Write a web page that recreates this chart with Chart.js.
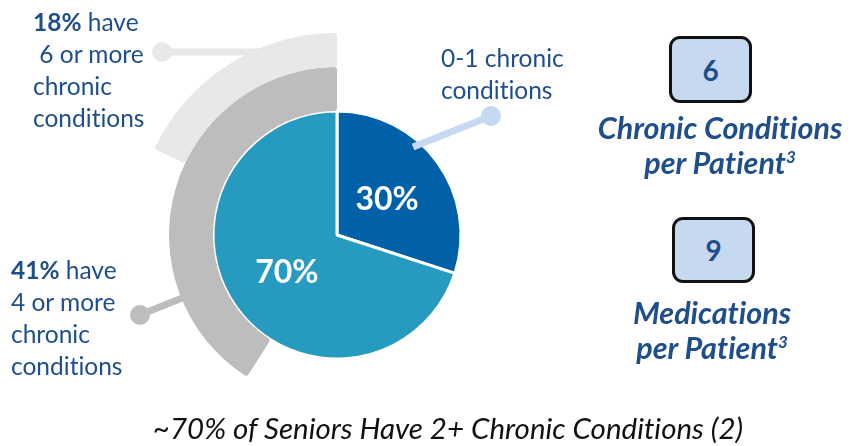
<!DOCTYPE html>
<html>
<head>
<meta charset="utf-8">
<script src="https://cdn.jsdelivr.net/npm/chart.js@4.4.1/dist/chart.umd.min.js"></script>
<style>
  body { margin: 0; background: #fff; }
  #wrap { position: relative; width: 850px; height: 446px; font-family: Lato, "Open Sans", sans-serif; color: #1F4E8C;
          font-variant-ligatures: none; font-feature-settings: "liga" 0, "dlig" 0; }
  #myChart { position: absolute; left: 0; top: 0; }
  .note { position: absolute; font-size: 24.5px; line-height: 32px; white-space: pre; }
  .box { position: absolute; box-sizing: border-box; border: 3px solid #111; border-radius: 11px; background: #C6D9F1;
         font-weight: bold; font-size: 28px; display: flex; align-items: center; justify-content: center; }
  .stat { position: absolute; width: 300px; text-align: center; font-weight: bold; font-style: italic; font-size: 30.5px; line-height: 35px; }
  .stat sup { font-size: 17px; vertical-align: 11px; line-height: 0; }
  #caption { position: absolute; left: 0; width: 896px; top: 410px; text-align: center; font-style: italic; font-size: 29.5px; color: #111; }
</style>
</head>
<body>
<div id="wrap">
  <canvas id="myChart" width="850" height="446"></canvas>
  <div class="note" id="noteSix" style="left:33px; top:6px;"></div>
  <div class="note" id="noteFour" style="left:11px; top:254px;"></div>
  <div class="note" id="noteLow" style="left:441px; top:42px;"></div>
  <div class="box" id="boxCond" style="left:669px; top:36px; width:83px; height:67px;"></div>
  <div class="stat" style="left:570px; top:110px;">Chronic Conditions<br>per Patient<sup>3</sup></div>
  <div class="box" id="boxMeds" style="left:672px; top:217px; width:83px; height:66px;"></div>
  <div class="stat" style="left:562px; top:295px;">Medications<br>per Patient<sup>3</sup></div>
  <div id="caption">~70% of Seniors Have 2+ Chronic Conditions (2)</div>
</div>
<script>
// inner pie: share of seniors by number of chronic conditions
const pieLabels = ['0-1 chronic conditions', '2+ chronic conditions'];
const pieValues = [30, 70];
// outer rings: share with 4+ and 6+ conditions
const fourPlus = 41;
const sixPlus = 18;
// per-patient averages
const condPerPatient = 6;
const medsPerPatient = 9;

const blue = '#0060A8';
const teal = '#279BBF';
const midGray = '#BDBDBD';
const lightGray = '#E8E8E8';
const paleBlue = '#C6D9F1';

document.getElementById('noteSix').innerHTML = '<b>' + sixPlus + '%</b> have\n 6 or more\nchronic\nconditions';
document.getElementById('noteFour').innerHTML = '<b>' + fourPlus + '%</b> have\n4 or more\nchronic\nconditions';
document.getElementById('noteLow').textContent = '0-1 chronic\nconditions';
document.getElementById('boxCond').textContent = condPerPatient;
document.getElementById('boxMeds').textContent = medsPerPatient;

// callout lines, offsets from the pie centre
function drawCallout(ctx, cx, cy, dot, end, color) {
    ctx.save();
    ctx.strokeStyle = color;
    ctx.fillStyle = color;
    ctx.lineWidth = 7;
    ctx.beginPath();
    ctx.moveTo(cx + dot[0], cy + dot[1]);
    ctx.lineTo(cx + end[0], cy + end[1]);
    ctx.stroke();
    ctx.beginPath();
    ctx.arc(cx + dot[0], cy + dot[1], 10, 0, Math.PI * 2);
    ctx.fill();
    ctx.restore();
}

const callouts = {
    id: 'callouts',
    beforeDatasetsDraw(chart) {
        const c = chart.getDatasetMeta(2).data[0];
        drawCallout(chart.ctx, c.x, c.y, [-175, -183], [-60, -183], lightGray);
        drawCallout(chart.ctx, c.x, c.y, [-197, 80], [-135, 55], midGray);
    },
    afterDatasetsDraw(chart) {
        const ctx = chart.ctx;
        const meta = chart.getDatasetMeta(2);
        const c = meta.data[0];
        drawCallout(ctx, c.x, c.y, [154, -119], [76, -88], paleBlue);
        // percentage labels in the pie slices
        ctx.save();
        ctx.fillStyle = '#fff';
        ctx.font = 'bold 32px Lato, "Open Sans", sans-serif';
        ctx.textAlign = 'center';
        ctx.textBaseline = 'middle';
        meta.data.forEach((arc, i) => {
            const p = arc.tooltipPosition();
            ctx.fillText(pieValues[i] + '%', p.x, p.y + 1);
        });
        ctx.restore();
    }
};

const ctx = document.getElementById('myChart').getContext('2d');
const myChart = new Chart(ctx, {
    type: 'doughnut',
    data: {
        labels: ['rest', 'share'],
        datasets: [{
            data: [100 - sixPlus, sixPlus],
            backgroundColor: ['rgba(0,0,0,0)', lightGray],
            borderWidth: 0,
            borderRadius: 3,
            weight: 34
        }, {
            data: [100 - fourPlus, fourPlus],
            backgroundColor: ['rgba(0,0,0,0)', midGray],
            borderWidth: 0,
            borderRadius: 3,
            weight: 44
        }, {
            data: pieValues,
            backgroundColor: [blue, teal],
            borderColor: '#fff',
            borderWidth: 3,
            weight: 124
        }]
    },
    options: {
        responsive: false,
        animation: false,
        events: [],
        cutout: 0,
        radius: 202,
        layout: { padding: { left: 135, right: 311, top: 33, bottom: 9 } },
        plugins: {
            legend: { display: false },
            tooltip: { enabled: false }
        }
    },
    plugins: [callouts]
});
</script>
</body>
</html>
